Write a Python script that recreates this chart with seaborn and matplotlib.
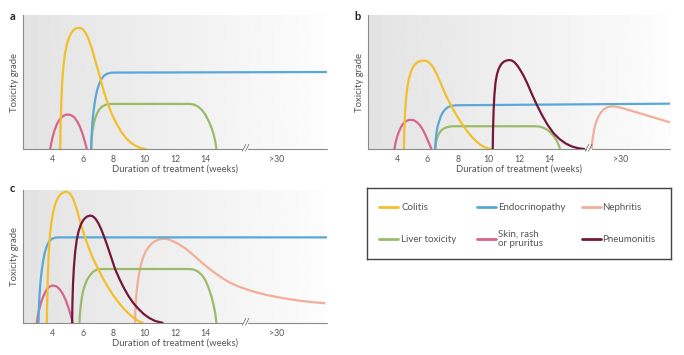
"""Toxicity grade over duration of treatment, three panels (a, b, c) plus a legend box."""

import numpy as np
import matplotlib.pyplot as plt
import seaborn as sns

# ---------------------------------------------------------------
# x tick positions (plot units, weeks; the ">30" sits after the axis break)
tick_pos = [4, 6, 8, 10, 12, 14, 18.65]
tick_labels = ['4', '6', '8', '10', '12', '14', '>30']
break_pos = 16.55

# ---------------------------------------------------------------
# panel a
a_colitis_x = [4.52, 4.55, 4.6, 4.66, 4.74, 4.84, 4.96, 5.1, 5.25, 5.4, 5.55, 5.7, 5.87, 6.02, 6.18,
               6.35, 6.55, 6.8, 7.05, 7.3, 7.6, 7.9, 8.2, 8.5, 8.8, 9.1, 9.4, 9.7, 10.0, 10.15]
a_colitis_y = [0, 0.18, 0.37, 0.52, 0.63, 0.72, 0.79, 0.84, 0.875, 0.897, 0.908, 0.912, 0.91, 0.9, 0.875,
               0.835, 0.77, 0.67, 0.57, 0.46, 0.35, 0.26, 0.19, 0.13, 0.085, 0.05, 0.027, 0.011, 0.002, 0]
a_endo_x = [6.54, 6.57, 6.62, 6.7, 6.8, 6.92, 7.06, 7.22, 7.4, 7.6, 7.8, 8.0, 21.9]
a_endo_y = [0, 0.1, 0.2, 0.29, 0.37, 0.44, 0.49, 0.53, 0.555, 0.568, 0.574, 0.576, 0.58]
a_liver_x = [6.54, 6.57, 6.62, 6.7, 6.8, 6.93, 7.08, 7.25, 7.45, 7.65, 7.85, 13.0, 13.25, 13.5, 13.75,
             13.98, 14.2, 14.38, 14.52, 14.63, 14.7]
a_liver_y = [0, 0.07, 0.13, 0.185, 0.23, 0.27, 0.3, 0.32, 0.332, 0.338, 0.34, 0.34, 0.335, 0.32, 0.295,
             0.26, 0.21, 0.16, 0.11, 0.055, 0]
a_skin_x = [3.87, 3.95, 4.05, 4.18, 4.32, 4.5, 4.7, 4.9, 5.06, 5.25, 5.45, 5.65, 5.82, 5.98, 6.12, 6.26]
a_skin_y = [0, 0.05, 0.1, 0.15, 0.19, 0.225, 0.248, 0.259, 0.26, 0.255, 0.238, 0.205, 0.165, 0.115, 0.06, 0]

# panel b
b_colitis_x = [4.45, 4.48, 4.53, 4.6, 4.68, 4.78, 4.9, 5.04, 5.2, 5.37, 5.55, 5.72, 5.87, 6.02, 6.2,
               6.4, 6.62, 6.85, 7.1, 7.35, 7.63, 7.9, 8.2, 8.5, 8.8, 9.1, 9.4, 9.7, 10.0, 10.2]
b_colitis_y = [0, 0.14, 0.28, 0.39, 0.47, 0.53, 0.58, 0.615, 0.64, 0.656, 0.664, 0.666, 0.665, 0.658, 0.64,
               0.61, 0.56, 0.5, 0.43, 0.37, 0.31, 0.255, 0.2, 0.15, 0.105, 0.068, 0.038, 0.016, 0.004, 0]
b_endo_x = [6.5, 6.53, 6.58, 6.66, 6.76, 6.88, 7.02, 7.18, 7.36, 7.56, 7.78, 8.0, 21.9]
b_endo_y = [0, 0.06, 0.12, 0.17, 0.21, 0.25, 0.28, 0.302, 0.317, 0.325, 0.329, 0.33, 0.342]
b_liver_x = [6.5, 6.53, 6.58, 6.66, 6.76, 6.9, 7.06, 7.25, 7.46, 7.7, 7.95, 13.1, 13.35, 13.6, 13.85,
             14.08, 14.28, 14.45, 14.58, 14.68]
b_liver_y = [0, 0.035, 0.065, 0.095, 0.12, 0.14, 0.155, 0.164, 0.17, 0.172, 0.172, 0.172, 0.169, 0.16, 0.145,
             0.122, 0.095, 0.065, 0.033, 0]
b_skin_x = [3.83, 3.9, 4.0, 4.12, 4.26, 4.42, 4.6, 4.78, 4.92, 5.1, 5.3, 5.5, 5.68, 5.85, 6.02, 6.15, 6.26]
b_skin_y = [0, 0.045, 0.09, 0.13, 0.165, 0.193, 0.211, 0.219, 0.22, 0.217, 0.203, 0.18, 0.148, 0.11, 0.065,
            0.03, 0]
b_pneum_x = [10.27, 10.29, 10.33, 10.38, 10.45, 10.55, 10.68, 10.83, 11.0, 11.17, 11.33, 11.5, 11.68, 11.86,
             12.05, 12.3, 12.55, 12.85, 13.17, 13.5, 13.85, 14.25, 14.65, 15.05, 15.45, 15.85, 16.3]
b_pneum_y = [0, 0.15, 0.3, 0.41, 0.5, 0.565, 0.61, 0.64, 0.658, 0.667, 0.67, 0.668, 0.655, 0.632,
             0.6, 0.55, 0.49, 0.41, 0.33, 0.255, 0.185, 0.12, 0.075, 0.042, 0.02, 0.007, 0]
b_nephr_x = [16.75, 16.78, 16.84, 16.92, 17.03, 17.17, 17.35, 17.55, 17.8, 18.05, 18.35, 18.7, 19.1, 19.5,
             19.9, 20.4, 20.9, 21.4, 21.9]
b_nephr_y = [0, 0.05, 0.1, 0.15, 0.2, 0.24, 0.275, 0.3, 0.316, 0.322, 0.32, 0.31, 0.297, 0.283,
             0.27, 0.252, 0.235, 0.218, 0.2]

# panel c
c_colitis_x = [3.65, 3.68, 3.72, 3.78, 3.86, 3.96, 4.08, 4.22, 4.38, 4.55, 4.72, 4.88, 5.02, 5.18, 5.34,
               5.5, 5.66, 5.82, 6.0, 6.2, 6.45, 6.7, 7.0, 7.3, 7.6, 7.95, 8.3, 8.65, 9.0, 9.35, 9.7, 9.95]
c_colitis_y = [0, 0.18, 0.37, 0.54, 0.67, 0.77, 0.85, 0.91, 0.95, 0.978, 0.99, 0.995, 0.993, 0.98, 0.95,
               0.9, 0.84, 0.77, 0.7, 0.63, 0.55, 0.48, 0.41, 0.34, 0.28, 0.215, 0.16, 0.11, 0.07, 0.035, 0.01, 0]
c_endo_x = [3.11, 3.13, 3.17, 3.23, 3.31, 3.41, 3.53, 3.67, 3.83, 4.0, 4.2, 4.41, 21.9]
c_endo_y = [0, 0.1, 0.2, 0.3, 0.39, 0.47, 0.54, 0.59, 0.622, 0.64, 0.648, 0.65, 0.65]
c_liver_x = [5.78, 5.81, 5.86, 5.93, 6.02, 6.14, 6.28, 6.45, 6.63, 6.82, 7.0, 13.0, 13.25, 13.5, 13.75,
             13.98, 14.2, 14.38, 14.52, 14.63, 14.7]
c_liver_y = [0, 0.07, 0.13, 0.19, 0.245, 0.29, 0.33, 0.36, 0.385, 0.4, 0.41, 0.41, 0.405, 0.39, 0.365,
             0.325, 0.265, 0.2, 0.135, 0.07, 0]
c_skin_x = [3.0, 3.07, 3.17, 3.3, 3.45, 3.62, 3.8, 4.02, 4.25, 4.48, 4.7, 4.9, 5.05, 5.18, 5.28, 5.35]
c_skin_y = [0, 0.055, 0.11, 0.165, 0.21, 0.25, 0.275, 0.285, 0.28, 0.258, 0.22, 0.17, 0.12, 0.07, 0.03, 0]
c_pneum_x = [5.3, 5.32, 5.36, 5.42, 5.5, 5.6, 5.73, 5.88, 6.05, 6.25, 6.45, 6.62, 6.8, 7.0, 7.2, 7.4,
             7.6, 7.8, 8.1, 8.4, 8.7, 9.0, 9.3, 9.6, 9.95, 10.3, 10.7, 11.25]
c_pneum_y = [0, 0.15, 0.3, 0.43, 0.54, 0.63, 0.7, 0.75, 0.785, 0.807, 0.815, 0.812, 0.795, 0.76, 0.71, 0.65,
             0.585, 0.515, 0.41, 0.33, 0.26, 0.2, 0.15, 0.11, 0.07, 0.04, 0.016, 0]
c_nephr_x = [9.4, 9.42, 9.47, 9.55, 9.65, 9.78, 9.93, 10.1, 10.3, 10.52, 10.76, 11.0, 11.25, 11.55, 11.9,
             12.3, 12.75, 13.2, 13.64, 14.1, 14.6, 15.1, 15.6, 16.2, 16.8, 17.4, 18.0, 18.7, 19.5, 20.3,
             21.1, 21.8]
c_nephr_y = [0, 0.1, 0.2, 0.29, 0.37, 0.44, 0.5, 0.545, 0.58, 0.607, 0.625, 0.636, 0.64, 0.636, 0.62,
             0.595, 0.56, 0.515, 0.47, 0.425, 0.38, 0.34, 0.305, 0.275, 0.25, 0.23, 0.212, 0.196, 0.18, 0.167,
             0.157, 0.15]

# legend entries (row by row)
legend_labels = ['Colitis', 'Endocrinopathy', 'Nephritis',
                 'Liver toxicity', 'Skin, rash\nor pruritus', 'Pneumonitis']

colors = {'Colitis': '#F3BF2A', 'Endocrinopathy': '#5AA8D6', 'Nephritis': '#F2AE98',
          'Liver toxicity': '#9BBB6B', 'Skin, rash\nor pruritus': '#D8648E', 'Pneumonitis': '#74173A'}

panels = {
    'a': [('Skin, rash\nor pruritus', a_skin_x, a_skin_y), ('Liver toxicity', a_liver_x, a_liver_y),
          ('Endocrinopathy', a_endo_x, a_endo_y), ('Colitis', a_colitis_x, a_colitis_y)],
    'b': [('Skin, rash\nor pruritus', b_skin_x, b_skin_y), ('Liver toxicity', b_liver_x, b_liver_y),
          ('Endocrinopathy', b_endo_x, b_endo_y), ('Colitis', b_colitis_x, b_colitis_y),
          ('Pneumonitis', b_pneum_x, b_pneum_y), ('Nephritis', b_nephr_x, b_nephr_y)],
    'c': [('Nephritis', c_nephr_x, c_nephr_y), ('Skin, rash\nor pruritus', c_skin_x, c_skin_y),
          ('Liver toxicity', c_liver_x, c_liver_y), ('Endocrinopathy', c_endo_x, c_endo_y),
          ('Colitis', c_colitis_x, c_colitis_y), ('Pneumonitis', c_pneum_x, c_pneum_y)],
}

# ---------------------------------------------------------------
sns.set_style('white')
plt.rcParams['font.family'] = ['Lato', 'DejaVu Sans']
text_col = '#555555'
axis_col = '#8a8a8a'

fig = plt.figure(figsize=(6.84, 3.55), dpi=100)

# axes rectangles in figure fractions
rects = {'a': [0.0336, 0.580, 0.4444, 0.378],
         'b': [0.538, 0.580, 0.442, 0.378],
         'c': [0.0336, 0.090, 0.4444, 0.375]}
letter_pos = {'a': (0.014, 0.945), 'b': (0.518, 0.945), 'c': (0.014, 0.458)}

xmin, xmax = 2.1, 21.9

for key, curves in panels.items():
    ax = fig.add_axes(rects[key])

    # light grey to white background
    grad = np.linspace(0.89, 0.99, 256).reshape(1, -1)
    ax.imshow(grad, extent=[xmin, xmax, 0, 1.01], aspect='auto', cmap='gray',
              vmin=0, vmax=1, zorder=0)

    for name, xs, ys in curves:
        sns.lineplot(x=xs, y=ys, color=colors[name], lw=1.6, ax=ax,
                     sort=False, estimator=None, zorder=3,
                     solid_joinstyle='round', solid_capstyle='butt')

    ax.set_xlim(xmin, xmax)
    ax.set_ylim(0, 1.01)
    ax.set_xticks(tick_pos)
    ax.set_xticklabels(tick_labels)
    ax.set_yticks([])
    ax.tick_params(axis='x', direction='out', length=2.5, width=0.7, color=axis_col,
                   labelsize=6.3, labelcolor=text_col, pad=1.5)
    ax.set_xlabel('Duration of treatment (weeks)', fontsize=6.8, color=text_col, labelpad=1)
    ax.set_ylabel('Toxicity grade', fontsize=6.8, color=text_col, labelpad=3)

    for s in ['top', 'right', 'bottom']:
        ax.spines[s].set_visible(False)
    ax.spines['left'].set_color(axis_col)
    ax.spines['left'].set_linewidth(0.8)

    # broken bottom axis line with "//"
    tr = ax.get_xaxis_transform()
    ax.plot([xmin, break_pos - 0.2], [0, 0], color=axis_col, lw=0.8, transform=tr, clip_on=False)
    ax.plot([break_pos + 0.2, xmax], [0, 0], color=axis_col, lw=0.8, transform=tr, clip_on=False)
    ax.text(break_pos, 0.01, '//', transform=tr, ha='center', va='center',
            fontsize=7, color=text_col, style='italic')

    fig.text(*letter_pos[key], key, fontsize=8, fontweight='bold', color='#222222')

# ---------------------------------------------------------------
# legend box
ax_leg = fig.add_axes([0.537, 0.270, 0.444, 0.200])
ax_leg.set_xlim(0, 1)
ax_leg.set_ylim(0, 1)
ax_leg.set_xticks([])
ax_leg.set_yticks([])
for s in ax_leg.spines.values():
    s.set_color('#444444')
    s.set_linewidth(1.0)

handle_x = [0.039, 0.362, 0.707]
text_x = [0.112, 0.431, 0.773]
row_y = [0.732, 0.282]
for i, name in enumerate(legend_labels):
    r, c = divmod(i, 3)
    sns.lineplot(x=[handle_x[c], handle_x[c] + 0.062], y=[row_y[r], row_y[r]],
                 color=colors[name], lw=2.0, ax=ax_leg, estimator=None)
    ax_leg.text(text_x[c], row_y[r], name, fontsize=7, color=text_col,
                va='center', ha='left', linespacing=1.0)

fig.savefig('out.png', dpi=100)
